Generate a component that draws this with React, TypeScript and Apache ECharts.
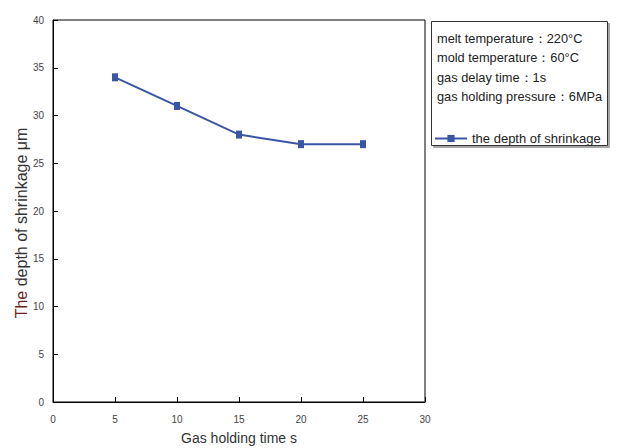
import React, { useEffect, useRef } from "react";
import * as echarts from "echarts";

const xValues = [5, 10, 15, 20, 25];
const depthValues = [34, 31, 28, 27, 27];
const seriesName = "the depth of shrinkage";
const infoLines = [
  "melt temperature：220°C",
  "mold temperature：60°C",
  "gas delay time：1s",
  "gas holding pressure：6MPa",
];
const xTitle = "Gas holding time s";
const yTitleFirst = "The";
const yTitleRest = "depth of shrinkage μm";

export default function App() {
  const ref = useRef<HTMLDivElement>(null);
  useEffect(() => {
    const chart = echarts.init(ref.current!, null, { renderer: "svg" });
    const lineColor = "#3a55a5";
    const tickFont = "'Liberation Sans Narrow', 'Liberation Sans', Arial, sans-serif";
    const mainFont = "'Liberation Sans', Arial, sans-serif";
    chart.setOption({
      animation: false,
      backgroundColor: "#fff",
      grid: {
        left: 53,
        top: 20,
        right: 192,
        bottom: 46,
        show: true,
        borderColor: "#000",
        borderWidth: 1,
        backgroundColor: "transparent",
        containLabel: false,
        outerBoundsMode: "none",
      },
      xAxis: {
        type: "value",
        min: 0,
        max: 30,
        interval: 5,
        name: xTitle,
        nameLocation: "middle",
        nameGap: 29,
        nameTextStyle: { color: "#333", fontSize: 14, fontFamily: mainFont },
        axisLine: { show: true, lineStyle: { color: "#000", width: 1 } },
        axisTick: { show: true, inside: true, length: 5, lineStyle: { color: "#000" } },
        axisLabel: { color: "#444", fontSize: 10, fontFamily: tickFont, margin: 12 },
        splitLine: { show: false },
      },
      yAxis: {
        type: "value",
        min: 0,
        max: 40,
        interval: 5,
        axisLine: { show: true, lineStyle: { color: "#000", width: 1 } },
        axisTick: { show: true, inside: true, length: 5, lineStyle: { color: "#000" } },
        axisLabel: { color: "#444", fontSize: 10, fontFamily: tickFont, margin: 9 },
        splitLine: { show: false },
      },
      legend: {
        left: 434,
        top: 132,
        itemWidth: 32,
        itemHeight: 9,
        itemGap: 4,
        padding: 0,
        textStyle: { color: "#222", fontSize: 13, fontFamily: mainFont },
        data: [{ name: seriesName }],
      },
      graphic: [
        {
          type: "text",
          x: 21,
          y: 223,
          rotation: Math.PI / 2,
          style: {
            text: "{a|" + yTitleFirst + "} {b|" + yTitleRest + "}",
            align: "center",
            verticalAlign: "middle",
            fontSize: 16,
            fontFamily: mainFont,
            rich: {
              a: { fill: "#6b1f1f", fontSize: 16, fontFamily: mainFont },
              b: { fill: "#333", fontSize: 16, fontFamily: mainFont },
            },
          },
          z: 5,
        },
        {
          type: "rect",
          left: 431,
          top: 21,
          shape: { width: 176, height: 124 },
          style: { fill: "#fff", stroke: "#333", lineWidth: 1, shadowColor: "rgba(0,0,0,0.35)", shadowOffsetX: 2, shadowOffsetY: 2, shadowBlur: 0 },
          z: 0,
        },
        ...infoLines.map((t, i) => ({
          type: "text",
          left: 437,
          top: 32 + i * 19.3,
          style: { text: t, fill: "#222", fontSize: 12.8, fontFamily: mainFont },
          z: 1,
        })),
      ],
      series: [
        {
          name: seriesName,
          type: "line",
          data: xValues.map((x, i) => [x, depthValues[i]]),
          symbol: "rect",
          symbolSize: [6, 8],
          itemStyle: { color: lineColor },
          lineStyle: { color: lineColor, width: 2 },
          z: 3,
        },
      ],
    });
    return () => chart.dispose();
  }, []);
  return <div ref={ref} style={{ width: 617, height: 448, position: "absolute", left: 0, top: 0 }} />;
}
